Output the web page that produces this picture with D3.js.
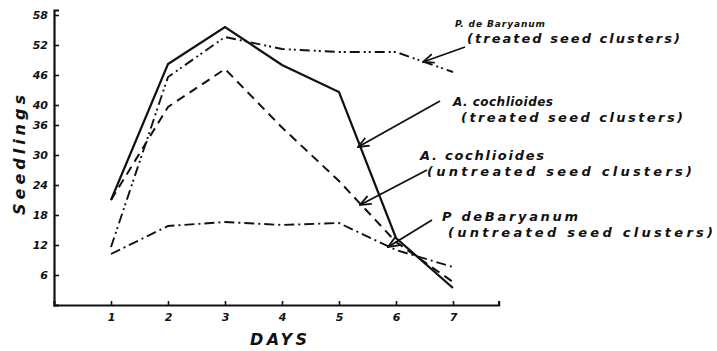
<!DOCTYPE html>
<html>
<head>
<meta charset="utf-8">
<script src="https://cdn.jsdelivr.net/npm/d3@7"></script>
<style>
  body { margin: 0; background: #fff; }
  svg text { font-family: "DejaVu Sans", sans-serif; font-style: italic; fill: #111; }
</style>
</head>
<body>
<div id="chart"></div>
<script>
// data
const days = [1, 2, 3, 4, 5, 6, 7]
const cochTreated = [21, 48.2, 55.6, 48, 42.6, 13.4, 3.4]
const cochUntreated = [21, 39.6, 47.2, 35.5, 24.8, 12.6, 4.6]
const debTreated = [11.6, 45.6, 53.6, 51.2, 50.6, 50.6, 46.6]
const debUntreated = [10.2, 15.8, 16.6, 16, 16.4, 11, 7.6]
const yTicks = [6, 12, 18, 24, 30, 36, 40, 46, 52, 58]
const xTicks = [1, 2, 3, 4, 5, 6, 7]

const W = 717, H = 351

const svg = d3.select("#chart").append("svg")
  .attr("width", W).attr("height", H)

const x = d3.scaleLinear().domain([0, 7.8]).range([54, 498.6])
const y = d3.scaleLinear().domain([0, 59]).range([305, 10])

// arrow marker, open V
svg.append("defs").append("marker")
  .attr("id", "arr")
  .attr("viewBox", "0 0 12 12")
  .attr("refX", 11).attr("refY", 6)
  .attr("markerWidth", 12).attr("markerHeight", 12)
  .attr("markerUnits", "userSpaceOnUse")
  .attr("orient", "auto")
  .append("path")
  .attr("d", "M0,1.5 L11,6 L0,10.5")
  .attr("fill", "none").attr("stroke", "#111").attr("stroke-width", 1.8)

// axes
const xAxis = svg.append("g")
  .attr("transform", `translate(0,${y(0)})`)
  .call(d3.axisBottom(x).tickValues(xTicks).tickSize(-4).tickFormat(d3.format("d")))
const yAxis = svg.append("g")
  .attr("transform", `translate(${x(0)},0)`)
  .call(d3.axisLeft(y).tickValues(yTicks).tickSize(-5).tickFormat(d3.format("d")))

for (const g of [xAxis, yAxis]) {
  g.select(".domain").attr("stroke", "#111").attr("stroke-width", 2.2)
  g.selectAll(".tick line").attr("stroke", "#111").attr("stroke-width", 1.6)
  g.selectAll(".tick text")
    .attr("fill", "#111")
    .style("font-family", "DejaVu Sans, sans-serif")
    .style("font-style", "italic")
    .style("font-weight", "bold")
    .style("font-size", "11px")
}
xAxis.selectAll(".tick text").attr("y", 8)
yAxis.selectAll(".tick text").attr("x", -6)

// series
const series = [
  { values: cochTreated, dash: null, width: 2.2 },
  { values: cochUntreated, dash: "9,6", width: 2 },
  { values: debTreated, dash: "10,4,2,3,2,4", width: 1.9 },
  { values: debUntreated, dash: "10,4,2,4", width: 1.9 },
]

const line = d3.line().x((d, i) => x(days[i])).y(d => y(d))

svg.selectAll("path.series")
  .data(series)
  .enter()
  .append("path")
  .attr("class", "series")
  .attr("d", d => line(d.values))
  .attr("fill", "none")
  .attr("stroke", "#111")
  .attr("stroke-width", d => d.width)
  .attr("stroke-dasharray", d => d.dash)

// annotations: label lines + arrow into its series
const notes = [
  { lines: ["P. de Baryanum", "(treated seed clusters)"], tx: 455, ty: 27, indent: 12,
    size1: 9, len1: 90, len2: 213, from: [465, 47], to: [423, 62] },
  { lines: ["A. cochlioides", "(treated seed clusters)"], tx: 453, ty: 106, indent: 8,
    size1: 12, len1: 100, len2: 222, from: [440, 101], to: [358, 147] },
  { lines: ["A. cochlioides", "(untreated seed clusters)"], tx: 420, ty: 160, indent: 7,
    size1: 13, len1: 124, len2: 265, from: [427, 170], to: [360, 205] },
  { lines: ["P deBaryanum", "(untreated seed clusters)"], tx: 442, ty: 221, indent: 6,
    size1: 13, len1: 136, len2: 265, from: [432, 220], to: [388, 247] },
]

notes.forEach(n => {
  svg.append("text")
    .attr("x", n.tx).attr("y", n.ty)
    .attr("textLength", n.len1).attr("lengthAdjust", "spacing")
    .style("font-size", n.size1 + "px")
    .style("font-weight", "bold")
    .text(n.lines[0])
  svg.append("text")
    .attr("x", n.tx + n.indent).attr("y", n.ty + 16)
    .attr("textLength", n.len2).attr("lengthAdjust", "spacing")
    .style("font-size", "13px")
    .style("font-weight", "bold")
    .text(n.lines[1])
  svg.append("line")
    .attr("x1", n.from[0]).attr("y1", n.from[1])
    .attr("x2", n.to[0]).attr("y2", n.to[1])
    .attr("stroke", "#111").attr("stroke-width", 1.8)
    .attr("marker-end", "url(#arr)")
})

// axis titles
svg.append("text")
  .attr("transform", `translate(25,155) rotate(-90)`)
  .attr("x", -60)
  .attr("textLength", 120).attr("lengthAdjust", "spacing")
  .style("font-size", "16px")
  .style("font-weight", "bold")
  .text("Seedlings")

svg.append("text")
  .attr("x", 250).attr("y", 345)
  .attr("textLength", 57).attr("lengthAdjust", "spacing")
  .style("font-size", "16px")
  .style("font-weight", "bold")
  .text("DAYS")
</script>
</body>
</html>
